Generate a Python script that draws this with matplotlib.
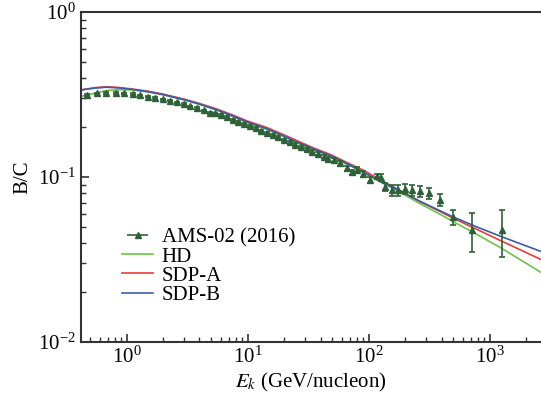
import numpy as np
import matplotlib
matplotlib.use("Agg")
import matplotlib.pyplot as plt

plt.rcParams['font.family'] = ['Liberation Serif', 'DejaVu Serif']
plt.rcParams['mathtext.fontset'] = 'stix'

# AMS-02 (2016) B/C data
ams_E = [0.47, 0.57, 0.68, 0.82, 0.96, 1.13, 1.30, 1.51, 1.73, 1.99, 2.28, 2.62,
         2.97, 3.37, 3.83, 4.34, 4.86, 5.4, 6.0, 6.7, 7.5, 8.4, 9.4, 10.5, 11.7,
         13.0, 14.5, 16.1, 17.9, 20.0, 22.3, 24.8, 27.6, 30.8, 34.3, 38.2, 42.5,
         46.5, 51.2, 58.1, 66, 73, 80, 90, 103, 116, 127, 137, 155, 176, 200, 230,
         265, 315, 385, 499, 716, 1251]
ams_bc = [0.314, 0.322, 0.323, 0.323, 0.322, 0.318, 0.312, 0.307, 0.302, 0.296,
          0.290, 0.283, 0.276, 0.268, 0.261, 0.253, 0.245, 0.243, 0.237, 0.230,
          0.223, 0.216, 0.210, 0.203, 0.197, 0.191, 0.185, 0.180, 0.174, 0.168,
          0.162, 0.157, 0.152, 0.147, 0.142, 0.138, 0.133, 0.129, 0.127, 0.121,
          0.113, 0.107, 0.111, 0.104, 0.096, 0.101, 0.099, 0.087, 0.083, 0.083,
          0.085, 0.083, 0.082, 0.080, 0.073, 0.0574, 0.0477, 0.0477]
ams_err = [0.003] * 17 + [0.003] * 20 + [0.004] * 9 + [0.005, 0.005, 0.006, 0.006,
           0.006, 0.006, 0.006, 0.006, 0.0062, 0.006, 0.0125, 0.015]

# model curves
model_E = [0.42, 0.55, 0.68, 0.85, 1.1, 1.5, 2, 3, 4, 5.5, 7.7, 10, 14.5, 20, 27,
           35, 48, 70, 90, 130, 170, 265, 388, 500, 800, 1250, 2700]
hd = [0.308, 0.322, 0.334, 0.338, 0.337, 0.328, 0.315, 0.293, 0.275, 0.255, 0.231,
      0.213, 0.194, 0.175, 0.158, 0.146, 0.133, 0.117, 0.107, 0.0918, 0.0830,
      0.0690, 0.0595, 0.0536, 0.0445, 0.0370, 0.0262]
sdp_a = [0.337, 0.348, 0.352, 0.349, 0.342, 0.331, 0.318, 0.296, 0.279, 0.259,
         0.236, 0.218, 0.199, 0.180, 0.163, 0.150, 0.137, 0.120, 0.110, 0.0945,
         0.0850, 0.0710, 0.0618, 0.0562, 0.0478, 0.0409, 0.0314]
sdp_b = [0.337, 0.346, 0.350, 0.347, 0.340, 0.329, 0.316, 0.294, 0.277, 0.256,
         0.233, 0.215, 0.196, 0.177, 0.160, 0.148, 0.135, 0.118, 0.107, 0.0925,
         0.0845, 0.0712, 0.0625, 0.0572, 0.0495, 0.0435, 0.0352]

data_col = '#2f6138'

fig = plt.figure(figsize=(5.41, 4.07), dpi=100)
ax = fig.add_axes([0.1497, 0.1597, 0.8503, 0.8108])

ax.errorbar(ams_E, ams_bc, yerr=ams_err, fmt='^', color=data_col, ms=4,
            elinewidth=1.2, capsize=2.5, capthick=1.2, zorder=3)
ax.plot(model_E, hd, color='#6cc24a', lw=1.2, zorder=2)
ax.plot(model_E, sdp_a, color='#ee3a3a', lw=1.2, zorder=2)
ax.plot(model_E, sdp_b, color='#3a5cac', lw=1.2, zorder=2)

# legend proxies
h_ams = ax.errorbar([], [], xerr=[], fmt='^', color=data_col, ms=4,
                    elinewidth=1.2, capsize=3, capthick=1.2)
h_hd, = ax.plot([], [], color='#6cc24a', lw=1.2)
h_a, = ax.plot([], [], color='#ee3a3a', lw=1.2)
h_b, = ax.plot([], [], color='#3a5cac', lw=1.2)
ax.legend([h_ams, h_hd, h_a, h_b], ['AMS-02 (2016)', 'HD', 'SDP-A', 'SDP-B'],
          loc='upper left', bbox_to_anchor=(0.089, 0.346), frameon=False,
          fontsize=15, handlelength=1.5, handletextpad=0.4, labelspacing=-0.02,
          borderpad=0, borderaxespad=0)

ax.set_xscale('log')
ax.set_yscale('log')
ax.set_xlim(0.42, 2650)
ax.set_ylim(0.01, 1)

ax.set_xlabel(r'$E_k$ (GeV/nucleon)', fontsize=15, labelpad=2)
ax.set_ylabel('B/C', fontsize=15, labelpad=4)

ax.spines['right'].set_visible(False)
for s in ['left', 'bottom', 'top']:
    ax.spines[s].set_linewidth(1.5)
    ax.spines[s].set_color('#333333')
ax.tick_params(which='both', direction='in', top=False, right=False,
               labelsize=15, color='#333333')
ax.tick_params(which='major', length=6, width=1.2)
ax.tick_params(which='minor', length=3.5, width=1.0)

plt.savefig('out.png', dpi=100)
